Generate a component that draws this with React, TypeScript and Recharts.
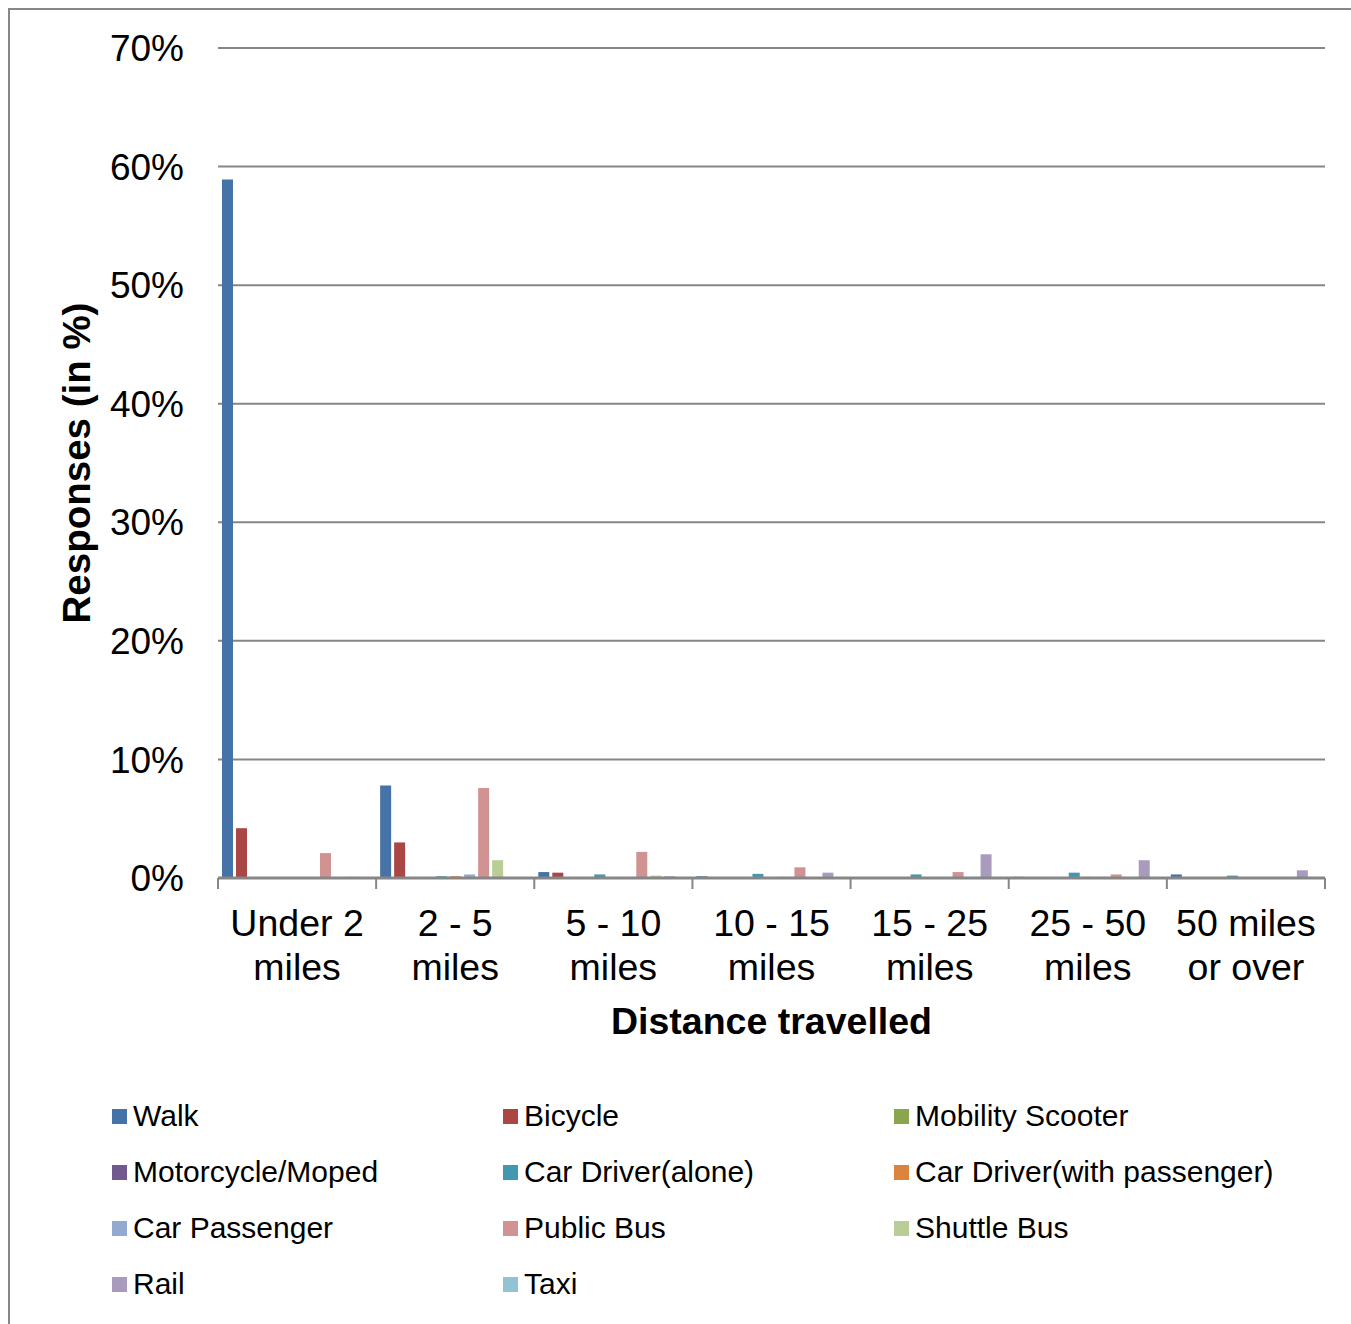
import React from "react";
import { BarChart, Bar, XAxis, YAxis, CartesianGrid } from "recharts";

const FONT = '"Liberation Sans", Arial, sans-serif';

// distance bands (two-line tick labels split on \n)
const categories = [
  "Under 2\nmiles",
  "2 - 5\nmiles",
  "5 - 10\nmiles",
  "10 - 15\nmiles",
  "15 - 25\nmiles",
  "25 - 50\nmiles",
  "50 miles\nor over",
];

const seriesNames = [
  "Walk",
  "Bicycle",
  "Mobility Scooter",
  "Motorcycle/Moped",
  "Car Driver(alone)",
  "Car Driver(with passenger)",
  "Car Passenger",
  "Public Bus",
  "Shuttle Bus",
  "Rail",
  "Taxi",
];

const seriesColors = [
  "#4572A7",
  "#AA4643",
  "#89A54E",
  "#71588F",
  "#4198AF",
  "#DB843D",
  "#93A9CF",
  "#D19392",
  "#B9CD96",
  "#A99BBD",
  "#92C3D5",
];

// responses in %, one value per distance band
const walk = [58.9, 7.8, 0.5, 0.15, 0, 0.1, 0.3];
const bicycle = [4.2, 3.0, 0.45, 0, 0, 0, 0];
const mobilityScooter = [0, 0, 0, 0, 0, 0, 0];
const motorcycle = [0, 0, 0, 0, 0, 0, 0];
const carDriverAlone = [0, 0.15, 0.3, 0.35, 0.3, 0.45, 0.2];
const carDriverPassenger = [0, 0.15, 0, 0, 0, 0.1, 0];
const carPassenger = [0, 0.3, 0, 0.1, 0, 0.1, 0];
const publicBus = [2.1, 7.6, 2.2, 0.9, 0.5, 0.3, 0];
const shuttleBus = [0, 1.5, 0.2, 0, 0, 0, 0];
const rail = [0.1, 0, 0.15, 0.45, 2.0, 1.5, 0.65];
const taxi = [0, 0, 0, 0, 0, 0, 0];

const seriesValues = [
  walk,
  bicycle,
  mobilityScooter,
  motorcycle,
  carDriverAlone,
  carDriverPassenger,
  carPassenger,
  publicBus,
  shuttleBus,
  rail,
  taxi,
];

const yTicks = [0, 10, 20, 30, 40, 50, 60, 70];

const data = categories.map((category, i) => {
  const row: Record<string, string | number> = { category };
  seriesValues.forEach((vals, s) => {
    row[`s${s}`] = vals[i];
  });
  return row;
});

function CategoryTick(props: any) {
  const { x, y, payload, index } = props;
  const half = payload?.offset ?? 79;
  const lines = String(payload.value).split("\n");
  const isLast = index === categories.length - 1;
  return (
    <g>
      <line x1={x - half} x2={x - half} y1={y} y2={y + 11} stroke="#868686" strokeWidth={2} />
      {isLast && (
        <line x1={x + half} x2={x + half} y1={y} y2={y + 11} stroke="#868686" strokeWidth={2} />
      )}
      <text x={x} y={y} textAnchor="middle" fontSize={37.5} fontFamily={FONT} fill="#000">
        {lines.map((l, i) => (
          <tspan key={i} x={x} dy={i === 0 ? 58 : 44}>
            {l}
          </tspan>
        ))}
      </text>
    </g>
  );
}

export default function App() {
  return (
    <div
      style={{
        position: "absolute",
        left: 8,
        top: 8,
        width: 1343,
        height: 1316,
        boxSizing: "border-box",
        borderLeft: "2px solid #878787",
        borderTop: "2px solid #878787",
        background: "#fff",
        fontFamily: FONT,
        overflow: "hidden",
      }}
    >
      <BarChart
        width={1341}
        height={1040}
        data={data}
        margin={{ top: 38, right: 26, bottom: 12, left: 0 }}
        barSize={11}
        barGap={3}
      >
        <CartesianGrid vertical={false} stroke="#868686" strokeWidth={2} />
        <XAxis
          dataKey="category"
          interval={0}
          height={160}
          tickSize={0}
          tickMargin={0}
          tickLine={false}
          axisLine={{ stroke: "#868686", strokeWidth: 3 }}
          tick={<CategoryTick />}
          label={{
            value: "Distance travelled",
            position: "insideBottom",
            offset: 4,
            style: { fontSize: 37.5, fontWeight: 700, fill: "#000", fontFamily: FONT },
          }}
        />
        <YAxis
          width={208}
          domain={[0, 70]}
          ticks={yTicks}
          interval={0}
          tickSize={0}
          tickMargin={34}
          tickLine={false}
          axisLine={false}
          tickFormatter={(v: number) => `${v}%`}
          tick={{ fontSize: 37, fill: "#000", fontFamily: FONT }}
          label={{
            value: "Responses (in %)",
            angle: -90,
            position: "insideLeft",
            offset: 66,
            style: { textAnchor: "middle", fontSize: 38.5, fontWeight: 700, fill: "#000", fontFamily: FONT },
          }}
        />
        {seriesNames.map((name, s) => (
          <Bar key={name} dataKey={`s${s}`} name={name} fill={seriesColors[s]} isAnimationActive={false} />
        ))}
      </BarChart>

      {/* Legend */}
      <div
        style={{
          position: "absolute",
          left: 102,
          top: 1078,
          display: "grid",
          gridTemplateColumns: "391px 391px 391px",
        }}
      >
        {seriesNames.map((name, s) => (
          <div key={name} style={{ display: "flex", alignItems: "center", height: 56 }}>
            <span style={{ width: 15, height: 15, background: seriesColors[s], marginRight: 6, flexShrink: 0 }} />
            <span style={{ fontSize: 30, color: "#000", whiteSpace: "nowrap", lineHeight: "56px" }}>{name}</span>
          </div>
        ))}
      </div>
    </div>
  );
}
